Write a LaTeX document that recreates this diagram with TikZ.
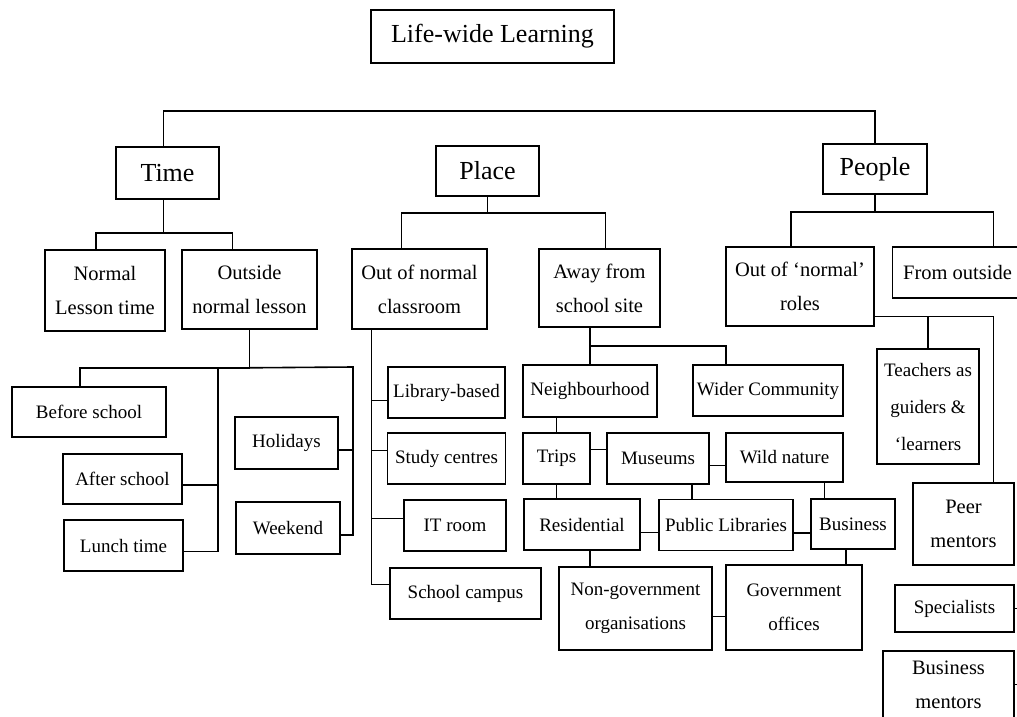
\documentclass[tikz,border=0pt]{standalone}
\usepackage{fontspec}
\setmainfont{Liberation Serif}
\begin{document}
\begin{tikzpicture}[x=1pt,y=-1pt,
  box/.style={draw, line width=1.6pt, inner sep=0pt, align=center, font=\fontsize{19}{34}\selectfont},
  head/.style={box, font=\fontsize{26}{30}\selectfont},
  mid/.style={box, font=\fontsize{20.5}{34}\selectfont},
  sz/.style 2 args={minimum width=#1pt, minimum height=#2pt},
  link/.style={line width=1.6pt}]
  \useasboundingbox (0,0) rectangle (1017,717);

  % top level
  \node[head, sz={243}{53}] (title) at (492.5,36.5) {Life-wide Learning};
  \node[head, sz={103}{52}] (time) at (167.5,173) {Time};
  \node[head, sz={103}{50}] (place) at (487.5,171) {Place};
  \node[head, sz={104}{50}] (people) at (875,169) {People};
  \draw[link] ([xshift=-4pt]time.north) -- ++(0,-35) -| (people.north);

  % time
  \node[mid, sz={120}{81}] (normal) at (105,290.5) {Normal\\Lesson time};
  \node[mid, sz={135}{79}] (outside) at (249.5,289.5) {Outside\\normal lesson};
  \node[box, sz={154}{50}] (before) at (89,412) {Before school};
  \node[box, sz={119}{50}] (after) at (122.5,479) {After school};
  \node[box, sz={119}{51}] (lunch) at (123.5,545.5) {Lunch time};
  \node[box, sz={103}{52}] (holidays) at (286.5,443) {Holidays};
  \node[box, sz={104}{52}] (weekend) at (288,528) {Weekend};
  \draw[link] ([xshift=-4pt]time.south) -- ++(0,33) -| ([xshift=-9pt]normal.north);
  \draw[link] ([xshift=-4pt]time.south) ++(0,33) -| ([xshift=-17pt]outside.north);
  \draw[link] (outside.south) -- ++(0,38) coordinate (obus) -| ([xshift=-9pt]before.north);
  \coordinate (lspine) at (218,367);
  \coordinate (rspine) at (353,367);
  \draw[link] (obus) -- (rspine) |- ([yshift=-7pt]weekend.east);
  \draw[link] (lspine) |- ([yshift=-6pt]lunch.east);
  \draw[link] ([yshift=-6pt]after.east) -- ([yshift=-6pt]after.east -| lspine);
  \draw[link] ([yshift=-7pt]holidays.east) -- ([yshift=-7pt]holidays.east -| rspine);

  % place
  \node[mid, sz={135}{80}] (outcls) at (419.5,289) {Out of normal\\classroom};
  \node[mid, sz={121}{78}] (away) at (599.5,288) {Away from\\school site};
  \node[box, sz={117}{51}] (library) at (446.5,392.5) {Library-based};
  \node[box, sz={118}{51}] (study) at (446.5,458.5) {Study centres};
  \node[box, sz={102}{51}] (itroom) at (455,525.5) {IT room};
  \node[box, sz={151}{51}] (campus) at (465.5,593.5) {School campus};
  \draw[link] (place.south) -- ++(0,16) -| ([xshift=-18pt]outcls.north);
  \draw[link] (place.south) ++(0,16) -| ([xshift=6pt]away.north);
  \draw[link] ([xshift=-48pt]outcls.south) coordinate (cspine) |- ([yshift=9pt]campus.west);
  \draw[link] ([yshift=-8pt]library.west) -- ([yshift=-8pt]library.west -| cspine);
  \draw[link] ([yshift=8pt]study.west) -- ([yshift=8pt]study.west -| cspine);
  \draw[link] ([yshift=7pt]itroom.west) -- ([yshift=7pt]itroom.west -| cspine);

  \node[box, sz={134}{52}] (neigh) at (590,391) {Neighbourhood};
  \node[box, sz={150}{51}] (wider) at (768,390.5) {Wider Community};
  \node[box, sz={67}{51}] (trips) at (556.5,458.5) {Trips};
  \node[box, sz={102}{51}] (museums) at (658,458.5) {Museums};
  \node[box, sz={117}{49}] (wild) at (784.5,457.5) {Wild nature};
  \node[box, sz={116}{51}] (resid) at (582,524.5) {Residential};
  \node[box, sz={134}{51}] (publib) at (726,525) {Public Libraries};
  \node[box, sz={84}{50}] (business) at (853,524) {Business};
  \node[box, sz={153}{83}] (ngo) at (635.5,608.5) {Non-government\\organisations};
  \node[box, sz={136}{85}] (gov) at (794,607.5) {Government\\offices};
  \draw[link] (neigh.north) -- (neigh.north |- away.south);
  \draw[link] (neigh.north) ++(0,-18) -| ([xshift=-42pt]wider.north);
  \draw[link] (trips.north) -- (trips.north |- neigh.south);
  \draw[link] ([yshift=9pt]trips.east) -- ([yshift=9pt]trips.east -| museums.west);
  \draw[link] ([yshift=-7pt]museums.east) -- ([yshift=-7pt]museums.east -| wild.west);
  \draw[link] (trips.south) -- (trips.south |- resid.north);
  \draw[link] ([xshift=34pt]museums.south) -- ([xshift=34pt]museums.south |- publib.north);
  \draw[link] ([xshift=40pt]wild.south) -- ([xshift=40pt]wild.south |- business.north);
  \draw[link] ([yshift=-8pt]resid.east) -- ([yshift=-8pt]resid.east -| publib.west);
  \draw[link] ([yshift=-8pt]publib.east) -- ([yshift=-8pt]publib.east -| business.west);
  \draw[link] ([xshift=8pt]resid.south) -- ([xshift=8pt]resid.south |- ngo.north);
  \draw[link] ([xshift=-7pt]business.south) -- ([xshift=-7pt]business.south |- gov.north);
  \draw[link] ([yshift=-8pt]ngo.east) -- ([yshift=-8pt]ngo.east -| gov.west);

  % people
  \node[mid, sz={148}{79}] (outroles) at (800,286.5) {Out of `normal'\\roles};
  \node[mid, sz={130}{51}] (fromout) at (957.5,272.5) {From outside};
  \node[box, sz={102}{115}, font=\fontsize{19}{37}\selectfont] (teachers) at (928,406.5) {Teachers as\\guiders \&\\`learners};
  \node[mid, sz={101}{82}] (peer) at (963.5,524) {Peer\\mentors};
  \node[box, sz={119}{47}] (special) at (954.5,608.5) {Specialists};
  \node[mid, sz={131}{67}] (busment) at (948.5,684.5) {Business\\mentors};
  \draw[link] (people.south) -- ++(0,17) -| ([xshift=-9pt]outroles.north);
  \draw[link] (people.south) ++(0,17) -| ([xshift=36pt]fromout.north);
  \coordinate (rbus) at ([yshift=-30pt]outroles.east);
  \draw[link] (rbus) -| ([xshift=30pt]peer.north);
  \draw[link] (teachers.north) -- (teachers.north |- rbus);
  \draw[link] (special.east) -- ++(5,0);
  \draw[link] (busment.east) -- ++(5,0);
\end{tikzpicture}
\end{document}
